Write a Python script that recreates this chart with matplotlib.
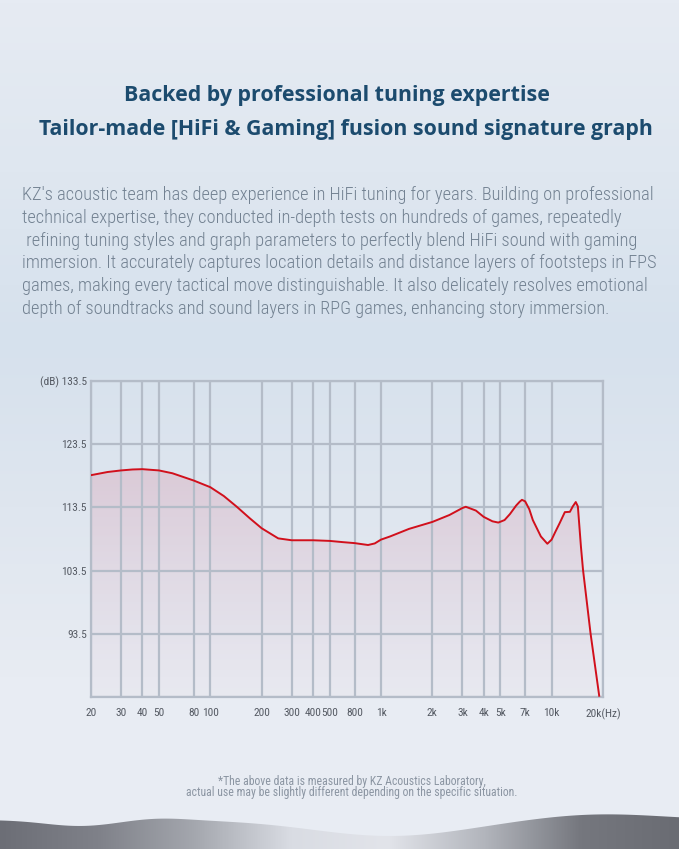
import numpy as np
import matplotlib
matplotlib.use("Agg")
import matplotlib.pyplot as plt
from matplotlib import font_manager
from matplotlib.colors import LinearSegmentedColormap

# frequency response (Hz, dB)
freqs = [20, 25, 30, 35, 40, 50, 60, 80, 100, 120, 143, 170, 200, 250, 300,
         400, 500, 600, 700, 840, 920, 1000, 1130, 1460, 2000, 2520, 3000,
         3140, 3600, 4000, 4500, 4870, 5300, 5700, 6200, 6500, 6700, 7000,
         7400, 7760, 8650, 9440, 10000, 10500, 11140, 11950, 12800, 13300,
         13850, 14250, 14850, 15270, 16900, 19000]
db = [118.6, 119.1, 119.35, 119.5, 119.55, 119.35, 118.9, 117.75, 116.7,
      115.3, 113.6, 111.8, 110.2, 108.6, 108.3, 108.3, 108.2, 108.0, 107.85,
      107.55, 107.8, 108.4, 108.9, 110.1, 111.2, 112.3, 113.4, 113.6, 113.0,
      112.0, 111.3, 111.1, 111.5, 112.45, 113.8, 114.4, 114.7, 114.45, 113.2,
      111.5, 108.9, 107.75, 108.4, 109.6, 111.0, 112.75, 112.8, 113.65,
      114.35, 113.65, 107.3, 103.65, 93.6, 83.7]

x_ticks = [20, 30, 40, 50, 80, 100, 200, 300, 400, 500, 700, 1000, 2000,
           3000, 4000, 5000, 7000, 10000, 20000]
x_labels = ["20", "30", "40", "50", "80", "100", "200", "300", "400", "500",
            "800", "1k", "2k", "3k", "4k", "5k", "7k", "10k", "20k(Hz)"]
y_ticks = [83.5, 93.5, 103.5, 113.5, 123.5, 133.5]
y_labels = ["", "93.5", "103.5", "113.5", "123.5", "(dB) 133.5"]

title_lines = ["Backed by professional tuning expertise",
               "Tailor-made [HiFi & Gaming] fusion sound signature graph"]
body_lines = [
    "KZ's acoustic team has deep experience in HiFi tuning for years. Building on professional",
    "technical expertise, they conducted in-depth tests on hundreds of games, repeatedly",
    " refining tuning styles and graph parameters to perfectly blend HiFi sound with gaming",
    "immersion. It accurately captures location details and distance layers of footsteps in FPS",
    "games, making every tactical move distinguishable. It also delicately resolves emotional",
    "depth of soundtracks and sound layers in RPG games, enhancing story immersion.",
]
note_lines = ["*The above data is measured by KZ Acoustics Laboratory,",
              "actual use may be slightly different depending on the specific situation."]

installed = {f.name for f in font_manager.fontManager.ttflist}
narrow = next((n for n in ["Roboto Condensed", "Liberation Sans Narrow",
                           "Open Sans Condensed", "Roboto"] if n in installed),
              "DejaVu Sans")

W, H = 679, 849
fig = plt.figure(figsize=(W / 100, H / 100), dpi=100)


def fit_width(texts, target_px):
    """Shrink a group of texts so the first one spans target_px."""
    r = fig.canvas.get_renderer()
    w = texts[0].get_window_extent(r).width
    for t in texts:
        t.set_fontsize(t.get_fontsize() * target_px / w)


# background gradient + dunes
bg = fig.add_axes([0, 0, 1, 1], zorder=-10)
bg.axis("off")
bg_cmap = LinearSegmentedColormap.from_list(
    "bg", ["#e6ebf3", "#dfe7f0", "#d6e1ed", "#dfe6ef", "#e8ecf3", "#e9edf4"])
grad = np.linspace(0, 1, 256).reshape(-1, 1)
bg.imshow(grad, cmap=bg_cmap, extent=[0, W, 0, H], aspect="auto", origin="upper")
dx = np.linspace(0, W, 300)
dune_h = (29 - 6 * np.exp(-((dx - 80) / 50) ** 2) + 2 * np.exp(-((dx - 160) / 40) ** 2)
          - 16 * np.exp(-((dx - 390) / 110) ** 2) + 6 * np.exp(-((dx - 600) / 90) ** 2))
dune = bg.fill_between(dx, 0, dune_h, color="none", lw=0)
dune_cmap = LinearSegmentedColormap.from_list(
    "dune", ["#6c6e76", "#7f8189", "#a4a7ae", "#d9dce3", "#e2e4ea",
             "#b2b5bc", "#75777e", "#6a6c73"])
dim = bg.imshow(np.linspace(0, 1, 256).reshape(1, -1), cmap=dune_cmap,
                extent=[0, W, 0, 40], aspect="auto")
dim.set_clip_path(dune.get_paths()[0], bg.transData)
bg.set_xlim(0, W)
bg.set_ylim(0, H)

# chart
ax = fig.add_axes([91 / W, 1 - 697 / H, 512 / W, 316 / H])
ax.set_facecolor("none")
ax.set_xscale("log")

fill_cmap = LinearSegmentedColormap.from_list(
    "fill", [(0.85, 0.55, 0.65, 0.04), (0.85, 0.45, 0.55, 0.28)])
poly = ax.fill_between(freqs, 83.5, db, color="none", lw=0)
im = ax.imshow(np.linspace(1, 0, 256).reshape(-1, 1) ** 1.2,
               cmap=fill_cmap, extent=[20, 20000, 83.5, 125],
               aspect="auto", origin="upper", zorder=1)
im.set_clip_path(poly.get_paths()[0], ax.transData)
ax.set_xlim(20, 20000)
ax.set_ylim(83.5, 133.5)

ax.plot(freqs, db, color="#d1101c", lw=1.4, zorder=3, solid_joinstyle="round")

grid_c = "#b4bcc8"
ax.set_xticks(x_ticks)
ax.set_xticklabels(x_labels)
ax.xaxis.set_minor_locator(matplotlib.ticker.NullLocator())
ax.set_yticks(y_ticks)
ax.set_yticklabels(y_labels)
ax.grid(True, color=grid_c, lw=1.6)
ax.tick_params(axis="x", length=0, pad=8)
ax.tick_params(axis="y", length=0, pad=3)
ax.tick_params(labelcolor="#555a63")
for s in ax.spines.values():
    s.set_color(grid_c)
    s.set_linewidth(1.6)
for lab in ax.get_xticklabels() + ax.get_yticklabels():
    lab.set_fontfamily(narrow)
    lab.set_fontsize(8.2)

# texts
t1 = fig.text(337 / W, 1 - 95 / H, title_lines[0], ha="center", va="center",
              fontsize=15.5, fontweight="bold", color="#1c4b6e", family="Open Sans")
t2 = fig.text(346 / W, 1 - 129 / H, title_lines[1], ha="center", va="center",
              fontsize=15.5, fontweight="bold", color="#1c4b6e", family="Open Sans")
fit_width([t2, t1], 613)

body = []
for i, line in enumerate(body_lines):
    body.append(fig.text(22 / W, 1 - (195 + i * 22.8) / H, line, ha="left",
                         va="center", fontsize=13.2, color="#728191",
                         family=narrow, fontweight="light"))
fit_width(body, 635)

notes = []
for i, line in enumerate(note_lines):
    notes.append(fig.text(352 / W, 1 - (781 + i * 11.5) / H, line, ha="center",
                          va="center", fontsize=7, color="#8b95a2", family=narrow))
fit_width(notes[::-1], 332)

fig.savefig("out.png", dpi=100)
